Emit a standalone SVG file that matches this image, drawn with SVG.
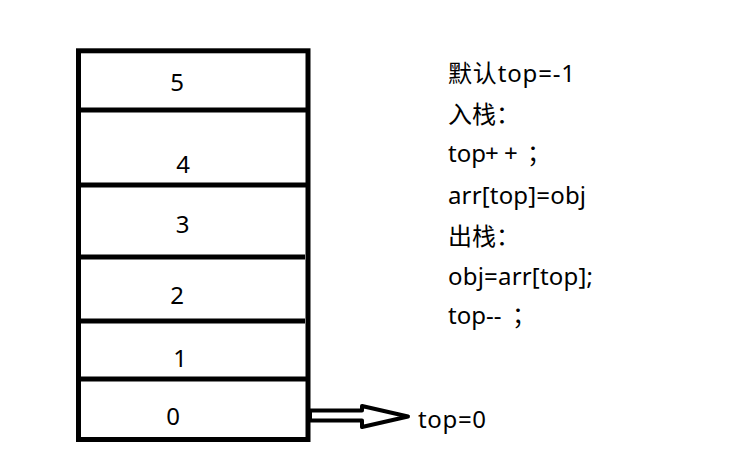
<svg xmlns="http://www.w3.org/2000/svg" width="732" height="466" viewBox="0 0 732 466">
<style>
.wall{stroke:#000;stroke-width:5;fill:none}
.div{stroke:#000;stroke-width:5}
.t{font-family:"Noto Sans","Noto Sans CJK SC",sans-serif;font-size:24px;fill:#000}
.n{text-anchor:middle}
.arrow{fill:#fff;stroke:#000;stroke-width:4;stroke-linejoin:round}
</style>
<rect width="732" height="466" fill="#fff"/>
<g id="stack">
<rect class="wall" x="78.5" y="50.8" width="229.5" height="388.7"/>
<g id="cell5"><text class="t n" x="177" y="91">5</text></g>
<line class="div" x1="78" y1="110" x2="308" y2="110"/>
<g id="cell4"><text class="t n" x="183" y="173">4</text></g>
<line class="div" x1="78" y1="185" x2="306" y2="185"/>
<g id="cell3"><text class="t n" x="182.5" y="233">3</text></g>
<line class="div" x1="78" y1="257" x2="305" y2="257"/>
<g id="cell2"><text class="t n" x="177" y="304">2</text></g>
<line class="div" x1="78" y1="321" x2="305" y2="321"/>
<g id="cell1"><text class="t n" x="180" y="367">1</text></g>
<line class="div" x1="78" y1="379" x2="308" y2="379"/>
<g id="cell0"><text class="t n" x="173" y="425">0</text></g>
</g>
<g id="connectors">
<path class="arrow" d="M310,410.5 L362,410.5 L362,406 L408,416.5 L362,427 L362,420.5 L310,420.5 Z"/>
</g>
<g id="pointer"><text class="t" x="418" y="428" textLength="68">top=0</text></g>
<g id="notes">
<text class="t" x="448" y="82" textLength="127">默认top=-1</text>
<text class="t" x="448" y="123">入栈：</text>
<text class="t" x="448" y="162">top<tspan x="485">+</tspan><tspan x="504">+</tspan><tspan x="527">；</tspan></text>
<text class="t" x="448" y="204" textLength="138">arr[top]=obj</text>
<text class="t" x="448" y="245">出栈：</text>
<text class="t" x="448" y="285" textLength="145">obj=arr[top];</text>
<text class="t" x="448" y="324">top--<tspan x="512">；</tspan></text>
</g>
</svg>
